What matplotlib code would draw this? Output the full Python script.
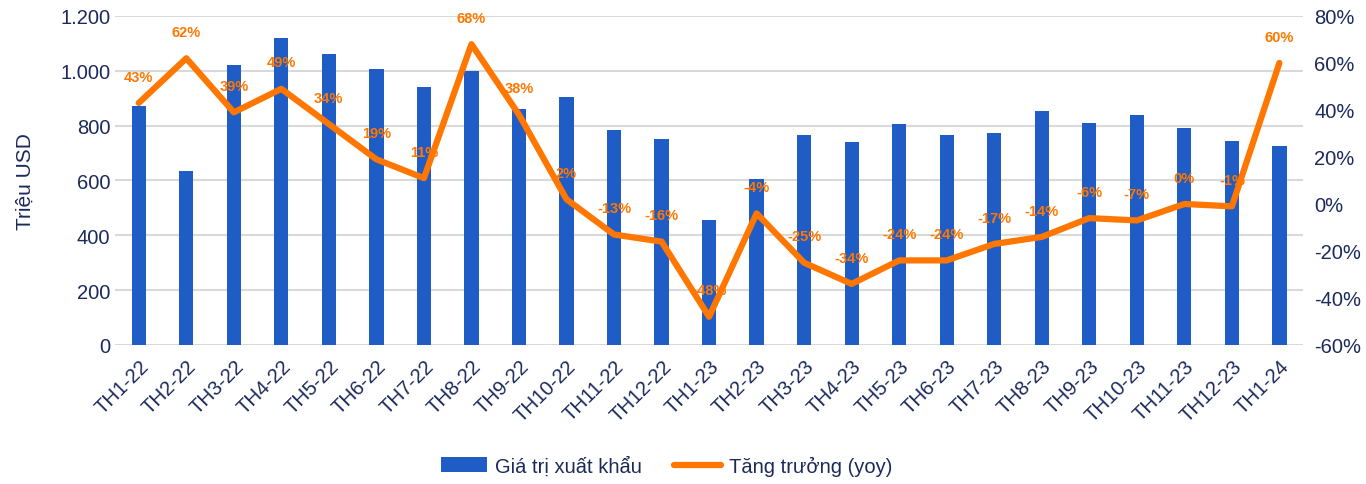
import matplotlib
matplotlib.use("Agg")
import matplotlib.pyplot as plt
import numpy as np

plt.rcParams['font.family'] = ['Liberation Sans', 'DejaVu Sans']

# dữ liệu
thang = ["TH1-22", "TH2-22", "TH3-22", "TH4-22", "TH5-22", "TH6-22", "TH7-22",
         "TH8-22", "TH9-22", "TH10-22", "TH11-22", "TH12-22", "TH1-23", "TH2-23",
         "TH3-23", "TH4-23", "TH5-23", "TH6-23", "TH7-23", "TH8-23", "TH9-23",
         "TH10-23", "TH11-23", "TH12-23", "TH1-24"]
gia_tri = [870, 635, 1020, 1120, 1060, 1005, 940, 1000, 860, 905, 785, 750,
           455, 605, 765, 740, 805, 765, 775, 855, 810, 840, 790, 745, 725]
tang_truong = [43, 62, 39, 49, 34, 19, 11, 68, 38, 2, -13, -16, -48, -4, -25,
               -34, -24, -24, -17, -14, -6, -7, 0, -1, 60]

navy = "#1B2A5C"
blue = "#1F5CC6"
orange = "#FF7700"

fig = plt.figure(figsize=(13.66, 4.85), dpi=100)
ax = fig.add_axes([0.0842, 0.2866, 0.8698, 0.6784])
x = np.arange(len(thang))

ax.bar(x, gia_tri, width=0.3, color=blue, label="Giá trị xuất khẩu", zorder=2)
ax.set_ylim(0, 1200)
ax.set_xlim(-0.5, len(thang) - 0.5)
ax.set_yticks(range(0, 1201, 200))
ax.set_yticklabels([f"{v:,}".replace(",", ".") for v in range(0, 1201, 200)])
ax.grid(axis="y", color="#D9D9D9", linewidth=1.5, zorder=0)
ax.set_axisbelow(True)
ax.set_xticks(x)
ax.set_xticklabels(thang, rotation=45, ha="right", rotation_mode="anchor")
ax.set_ylabel("Triệu USD", color=navy, fontsize=15, labelpad=18)
ax.tick_params(length=0, labelsize=14.5, labelcolor=navy)
ax.tick_params(axis="x", pad=8)
for s in ax.spines.values():
    s.set_visible(False)

ax2 = ax.twinx()
ax2.plot(x, tang_truong, color=orange, linewidth=4.5, label="Tăng trưởng (yoy)",
         solid_capstyle="round", zorder=3)
ax2.set_ylim(-60, 80)
ax2.set_yticks(range(-60, 81, 20))
ax2.set_yticklabels([f"{v}%" for v in range(-60, 81, 20)])
ax2.tick_params(length=0, labelsize=14.5, labelcolor=navy, pad=8)
for s in ax2.spines.values():
    s.set_visible(False)

for xi, v in zip(x, tang_truong):
    ax2.annotate(f"{v}%", (xi, v), xytext=(0, 19), textcoords="offset points",
                 ha="center", va="center", color=orange, fontsize=10.5,
                 fontweight="bold")

h1, l1 = ax.get_legend_handles_labels()
h2, l2 = ax2.get_legend_handles_labels()
fig.legend(h1 + h2, l1 + l2, loc="lower center", bbox_to_anchor=(0.488, -0.02),
           ncol=2, frameon=False, fontsize=14.5, labelcolor=navy,
           handlelength=2.3, handletextpad=0.4, columnspacing=1.6)

fig.savefig("out.png", dpi=100)
